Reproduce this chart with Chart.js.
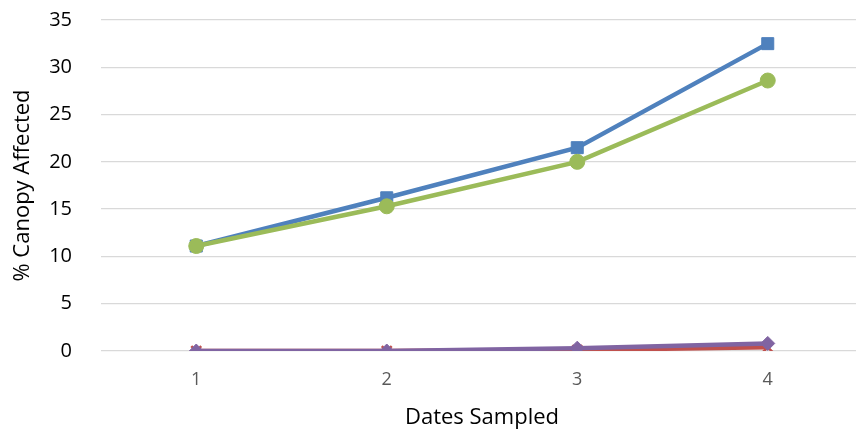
<!DOCTYPE html>
<html>
<head>
<meta charset="utf-8">
<script src="https://cdn.jsdelivr.net/npm/chart.js@4"></script>
<style>
  html, body { margin: 0; padding: 0; background: #fff; overflow: hidden; }
  #wrap { width: 863px; height: 435px; }
</style>
</head>
<body>
<div id="wrap"><canvas id="chart"></canvas></div>
<script>
// data
const dates = ['1', '2', '3', '4'];
const blueSeries = [11.1, 16.2, 21.5, 32.5];
const redSeries = [0, 0, 0.1, 0.4];
const greenSeries = [11.1, 15.3, 20.0, 28.6];
const purpleSeries = [0, 0, 0.3, 0.8];
const yTicks = [0, 5, 10, 15, 20, 25, 30, 35];

const FONT = "'Open Sans', 'Liberation Sans', sans-serif";

function series(data, color, style, radius) {
    return {
        data: data,
        borderColor: color,
        backgroundColor: color,
        borderWidth: 4.5,
        pointStyle: style,
        pointRadius: radius,
        pointBorderWidth: style === 'crossRot' ? 2.5 : 1,
        tension: 0
    };
}

new Chart(document.getElementById('chart').getContext('2d'), {
    type: 'line',
    data: {
        labels: dates,
        // first dataset is drawn on top
        datasets: [
            series(purpleSeries, '#8064A2', 'rectRot', 7),
            series(greenSeries, '#9BBB59', 'circle', 7.5),
            series(redSeries, '#C0504D', 'crossRot', 7),
            series(blueSeries, '#4F81BD', 'rect', 8.5)
        ]
    },
    options: {
        responsive: true,
        maintainAspectRatio: false,
        animation: false,
        layout: { autoPadding: false, padding: { top: 20, right: 0, left: 0, bottom: 0 } },
        plugins: { legend: { display: false }, tooltip: { enabled: false } },
        scales: {
            x: {
                offset: true,
                grid: { display: false },
                border: { display: false },
                ticks: { color: '#595959', font: { family: FONT, size: 18 }, padding: 10 },
                title: { display: true, text: 'Dates Sampled', color: '#000', font: { family: FONT, size: 22 }, padding: { top: 4 } },
                afterFit: (s) => { s.height = 84; s.paddingLeft = 0; s.paddingRight = 0; }
            },
            y: {
                min: 0,
                max: 35,
                afterBuildTicks: (s) => { s.ticks = yTicks.map(v => ({ value: v })); },
                grid: { color: '#D9D9D9', lineWidth: 1.3, drawTicks: false },
                border: { display: false },
                ticks: { color: '#000', font: { family: FONT, size: 20 }, padding: 29 },
                title: { display: true, text: '% Canopy Affected', color: '#000', font: { family: FONT, size: 22 }, padding: { top: 10, bottom: 0 } },
                afterFit: (s) => { s.width = 101; s.paddingTop = 0; s.paddingBottom = 0; }
            }
        }
    }
});
</script>
</body>
</html>
